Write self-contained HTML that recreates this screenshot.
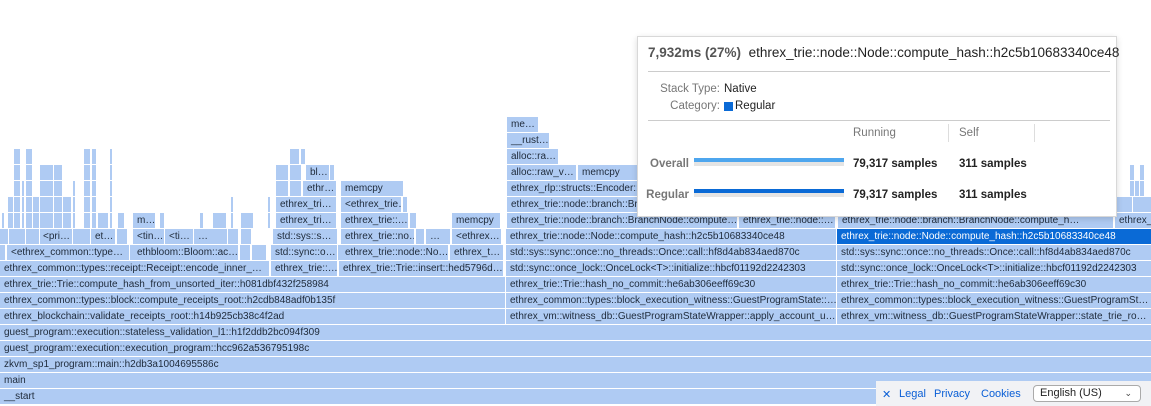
<!DOCTYPE html>
<html><head><meta charset="utf-8">
<style>
html,body{margin:0;padding:0;background:#fff;width:1151px;height:406px;overflow:hidden;position:relative;font-family:"Liberation Sans",Arial,sans-serif}
.b{position:absolute;height:15px;background:#afcbf3;font-size:10px;line-height:15px;color:#1e2a3a;white-space:nowrap;overflow:hidden;padding-left:4px;box-sizing:border-box}
.s{background:#0a6ad6;color:#fff}
#tip{position:absolute;left:637px;top:36px;width:480px;height:181px;background:#fff;border:1px solid #d8d8d8;box-shadow:0 2px 6px rgba(0,0,0,.15);box-sizing:border-box;font-size:11.5px;color:#333}
#tip div{position:absolute;white-space:nowrap}
.hr{height:1px;background:#ccc;left:10px;width:462px}
.lab{color:#777;text-align:right}
.bl{font-weight:bold;color:#777;text-align:right}
.num{font-weight:bold;color:#222;font-size:11.5px}
#foot{position:absolute;left:876px;top:381px;width:275px;height:25px;background:#f1f2f5;font-size:11px;color:#0a5fd6}
#foot span{position:absolute;top:7px}
#sel{position:absolute;left:157px;top:4px;width:108px;height:17px;border:1px solid #aaa;border-radius:4px;background:#fff;box-sizing:border-box;color:#222;font-size:11px;line-height:15px;padding-left:6px}
</style></head><body>

<div class="b" style="left:0;top:389px;width:1151px">__start</div>
<div class="b" style="left:0;top:373px;width:1151px">main</div>
<div class="b" style="left:0;top:357px;width:1151px">zkvm_sp1_program::main::h2db3a1004695586c</div>
<div class="b" style="left:0;top:341px;width:1151px">guest_program::execution::execution_program::hcc962a536795198c</div>
<div class="b" style="left:0;top:325px;width:1151px">guest_program::execution::stateless_validation_l1::h1f2ddb2bc094f309</div>

<div class="b" style="left:0;top:309px;width:505px">ethrex_blockchain::validate_receipts_root::h14b925cb38c4f2ad</div>
<div class="b" style="left:0;top:293px;width:505px">ethrex_common::types::block::compute_receipts_root::h2cdb848adf0b135f</div>
<div class="b" style="left:0;top:277px;width:505px">ethrex_trie::Trie::compute_hash_from_unsorted_iter::h081dbf432f258984</div>
<div class="b" style="left:0;top:261px;width:269px">ethrex_common::types::receipt::Receipt::encode_inner_…</div>
<div class="b" style="left:271px;top:261px;width:66px">ethrex_trie::…</div>
<div class="b" style="left:339px;top:261px;width:164px">ethrex_trie::Trie::insert::hed5796d…</div>

<div class="b" style="left:0;top:245px;width:5px"></div>
<div class="b" style="left:7px;top:245px;width:122px">&lt;ethrex_common::type…</div>
<div class="b" style="left:130px;top:245px;width:2px"></div>
<div class="b" style="left:133px;top:245px;width:105px">ethbloom::Bloom::ac…</div>
<div class="b" style="left:240px;top:245px;width:10px"></div>
<div class="b" style="left:252px;top:245px;width:14px"></div>
<div class="b" style="left:271px;top:245px;width:66px">std::sync::o…</div>
<div class="b" style="left:338px;top:245px;width:2px"></div>
<div class="b" style="left:341px;top:245px;width:107px">ethrex_trie::node::No…</div>
<div class="b" style="left:450px;top:245px;width:53px">ethrex_t…</div>

<div class="b" style="left:0;top:229px;width:8px"></div>
<div class="b" style="left:9px;top:229px;width:16px"></div>
<div class="b" style="left:26px;top:229px;width:13px"></div>
<div class="b" style="left:40px;top:229px;width:32px;padding-left:3px">&lt;pri…</div>
<div class="b" style="left:73px;top:229px;width:17px"></div>
<div class="b" style="left:91px;top:229px;width:24px">et…</div>
<div class="b" style="left:117px;top:229px;width:10px"></div>
<div class="b" style="left:133px;top:229px;width:31px">&lt;tin…</div>
<div class="b" style="left:165px;top:229px;width:28px">&lt;ti…</div>
<div class="b" style="left:194px;top:229px;width:33px">…</div>
<div class="b" style="left:228px;top:229px;width:10px"></div>
<div class="b" style="left:241px;top:229px;width:10px"></div>
<div class="b" style="left:273px;top:229px;width:64px">std::sys::s…</div>
<div class="b" style="left:341px;top:229px;width:73px">ethrex_trie::no…</div>
<div class="b" style="left:416px;top:229px;width:8px"></div>
<div class="b" style="left:426px;top:229px;width:24px">…</div>
<div class="b" style="left:452px;top:229px;width:49px">&lt;ethrex…</div>

<div class="b" style="left:133px;top:213px;width:22px">m…</div>
<div class="b" style="left:213px;top:213px;width:13px"></div>
<div class="b" style="left:241px;top:213px;width:12px"></div>
<div class="b" style="left:276px;top:213px;width:60px">ethrex_tri…</div>
<div class="b" style="left:341px;top:213px;width:67px">ethrex_trie::…</div>
<div class="b" style="left:410px;top:213px;width:6px"></div>
<div class="b" style="left:452px;top:213px;width:48px">memcpy</div>

<div class="b" style="left:276px;top:197px;width:60px">ethrex_tri…</div>
<div class="b" style="left:341px;top:197px;width:60px">&lt;ethrex_trie…</div>
<div class="b" style="left:403px;top:197px;width:4px"></div>

<div class="b" style="left:276px;top:181px;width:12px"></div>
<div class="b" style="left:290px;top:181px;width:11px"></div>
<div class="b" style="left:303px;top:181px;width:33px">ethr…</div>
<div class="b" style="left:341px;top:181px;width:62px">memcpy</div>

<div class="b" style="left:276px;top:165px;width:12px"></div>
<div class="b" style="left:290px;top:165px;width:11px"></div>
<div class="b" style="left:306px;top:165px;width:23px">bl…</div>
<div class="b" style="left:330px;top:165px;width:2px"></div>
<div class="b" style="left:290px;top:149px;width:9px"></div>
<div class="b" style="left:301px;top:149px;width:1px"></div>

<div id="sl"></div>

<div class="b" style="left:506px;top:309px;width:330px">ethrex_vm::witness_db::GuestProgramStateWrapper::apply_account_u…</div>
<div class="b" style="left:506px;top:293px;width:330px">ethrex_common::types::block_execution_witness::GuestProgramState::…</div>
<div class="b" style="left:506px;top:277px;width:330px">ethrex_trie::Trie::hash_no_commit::he6ab306eeff69c30</div>
<div class="b" style="left:506px;top:261px;width:330px">std::sync::once_lock::OnceLock&lt;T&gt;::initialize::hbcf01192d2242303</div>
<div class="b" style="left:506px;top:245px;width:330px">std::sys::sync::once::no_threads::Once::call::hf8d4ab834aed870c</div>
<div class="b" style="left:506px;top:229px;width:330px">ethrex_trie::node::Node::compute_hash::h2c5b10683340ce48</div>
<div class="b" style="left:507px;top:213px;width:230px">ethrex_trie::node::branch::BranchNode::compute…</div>
<div class="b" style="left:739px;top:213px;width:96px">ethrex_trie::node::…</div>
<div class="b" style="left:507px;top:197px;width:140px">ethrex_trie::node::branch::BranchNode</div>
<div class="b" style="left:507px;top:181px;width:140px">ethrex_rlp::structs::Encoder::</div>
<div class="b" style="left:507px;top:165px;width:69px">alloc::raw_v…</div>
<div class="b" style="left:578px;top:165px;width:60px">memcpy</div>
<div class="b" style="left:507px;top:149px;width:51px">alloc::ra…</div>
<div class="b" style="left:507px;top:133px;width:42px">__rust…</div>
<div class="b" style="left:507px;top:117px;width:31px">me…</div>

<div class="b" style="left:837px;top:309px;width:314px">ethrex_vm::witness_db::GuestProgramStateWrapper::state_trie_ro…</div>
<div class="b" style="left:837px;top:293px;width:314px">ethrex_common::types::block_execution_witness::GuestProgramSt…</div>
<div class="b" style="left:837px;top:277px;width:314px">ethrex_trie::Trie::hash_no_commit::he6ab306eeff69c30</div>
<div class="b" style="left:837px;top:261px;width:314px">std::sync::once_lock::OnceLock&lt;T&gt;::initialize::hbcf01192d2242303</div>
<div class="b" style="left:837px;top:245px;width:314px">std::sys::sync::once::no_threads::Once::call::hf8d4ab834aed870c</div>
<div class="b s" style="left:837px;top:229px;width:314px">ethrex_trie::node::Node::compute_hash::h2c5b10683340ce48</div>
<div class="b" style="left:838px;top:213px;width:275px">ethrex_trie::node::branch::BranchNode::compute_h…</div>
<div class="b" style="left:1115px;top:213px;width:36px">ethrex_trie::…</div>
<div class="b" style="left:1117px;top:197px;width:15px"></div>
<div class="b" style="left:1133px;top:197px;width:18px"></div>
<div class="b" style="left:1130px;top:181px;width:3px"></div>
<div class="b" style="left:1135px;top:181px;width:3px"></div>
<div class="b" style="left:1140px;top:181px;width:3px"></div>
<div class="b" style="left:1130px;top:165px;width:3px"></div>
<div class="b" style="left:1140px;top:165px;width:3px"></div>

<script>
var cols=[[2,2,213],[8,5,197],[14,6,149],[22,2,181],[26,6,149],[33,6,197],[40,13,165],[54,8,165],[63,8,197],[73,2,181],[84,6,149],[92,4,149],[98,10,213],[110,2,149],[118,6,213],[160,4,213],[200,3,213],[231,2,197],[268,2,197]];
var h='';cols.forEach(function(c){for(var y=c[2];y<=213;y+=16){h+='<div class="b" style="left:'+c[0]+'px;top:'+y+'px;width:'+c[1]+'px;padding:0"></div>';}});
document.getElementById('sl').innerHTML=h;
</script>

<div id="tip">
  <div style="left:10px;top:8px;font-size:13.5px;color:#222"><b style="color:#555">7,932ms (27%)</b>&nbsp; ethrex_trie::node::Node::compute_hash::h2c5b10683340ce48</div>
  <div class="hr" style="top:34px"></div>
  <div class="lab" style="left:10px;width:72px;top:46px">Stack Type:</div>
  <div style="left:86px;top:46px;color:#222">Native</div>
  <div class="lab" style="left:10px;width:72px;top:63px">Category:</div>
  <div style="left:86px;top:65px;width:9px;height:9px;background:#0a6ad6"></div>
  <div style="left:97px;top:63px;color:#222">Regular</div>
  <div class="hr" style="top:83px"></div>
  <div style="left:215px;top:90px;color:#777">Running</div>
  <div style="left:310px;top:87px;width:1px;height:18px;background:#ddd"></div>
  <div style="left:321px;top:90px;color:#777">Self</div>
  <div style="left:396px;top:87px;width:1px;height:18px;background:#ddd"></div>
  <div class="bl" style="left:0;width:51px;top:121px">Overall</div>
  <div style="left:56px;top:121px;width:150px;height:4px;background:#4ea6ee"></div>
  <div style="left:56px;top:125px;width:150px;height:4px;background:#e4e4e4"></div>
  <div class="num" style="left:215px;top:121px">79,317 samples</div>
  <div class="num" style="left:321px;top:121px">311 samples</div>
  <div class="bl" style="left:0;width:51px;top:152px">Regular</div>
  <div style="left:56px;top:152px;width:150px;height:4px;background:#0a6ad6"></div>
  <div style="left:56px;top:156px;width:150px;height:4px;background:#e4e4e4"></div>
  <div class="num" style="left:215px;top:152px">79,317 samples</div>
  <div class="num" style="left:321px;top:152px">311 samples</div>
</div>

<div id="foot">
  <span style="left:6px">✕</span>
  <span style="left:23px">Legal</span>
  <span style="left:58px">Privacy</span>
  <span style="left:105px">Cookies</span>
  <div id="sel">English (US)<span style="position:absolute;right:8px;top:0;font-size:9px;color:#444">⌄</span></div>
</div>
</body></html>
